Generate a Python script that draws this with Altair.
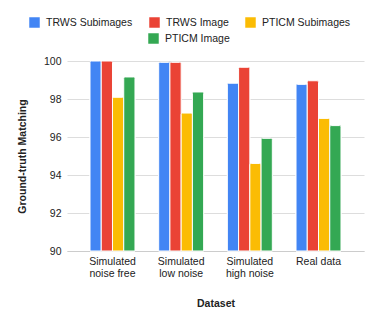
import altair as alt
import pandas as pd

categories = ["Simulated noise free", "Simulated low noise", "Simulated high noise", "Real data"]
series = ["TRWS Subimages", "TRWS Image", "PTICM Subimages", "PTICM Image"]
colors = ["#4285F4", "#EA4335", "#FBBC04", "#34A853"]
trws_sub = [100.0, 99.93, 98.83, 98.77]
trws_img = [100.0, 99.93, 99.67, 98.96]
pticm_sub = [98.09, 97.26, 94.61, 96.98]
pticm_img = [99.16, 98.37, 95.93, 96.60]

rows = []
for s, vals in zip(series, [trws_sub, trws_img, pticm_sub, pticm_img]):
    for c, v in zip(categories, vals):
        rows.append({"Dataset": c, "Series": s, "Value": v})
df = pd.DataFrame(rows)

font = "Arial"


def legend(vals, lx, ly):
    return alt.Legend(title=None, orient="none", legendX=lx, legendY=ly, values=vals,
                      direction="horizontal", columns=3, symbolType="square",
                      symbolSize=110, symbolStrokeWidth=0, columnPadding=16,
                      labelOffset=6, rowPadding=5, labelFontSize=10.5,
                      labelColor="#222222", labelFont=font, symbolOpacity=1)


def layer(vals, lx, ly):
    return alt.Chart(df).mark_bar(
        stroke="white", strokeWidth=1, cornerRadiusTopLeft=1.5, cornerRadiusTopRight=1.5
    ).encode(
        x=alt.X("Dataset:N", sort=categories,
                scale=alt.Scale(paddingInner=0.345, paddingOuter=0.335),
                axis=alt.Axis(title="Dataset", labelAngle=0, ticks=False, domain=True,
                              domainColor="#cccccc",
                              labelExpr="indexof(datum.label, 'Simulated ') == 0 ? ['Simulated', substring(datum.label, 10)] : datum.label",
                              labelPadding=5, labelLineHeight=12, titlePadding=20)),
        xOffset=alt.XOffset("Series:N", sort=series),
        y=alt.Y("Value:Q", scale=alt.Scale(domain=[90, 100], nice=False, zero=False),
                axis=alt.Axis(title="Ground-truth Matching", values=[90, 92, 94, 96, 98, 100],
                              ticks=False, domain=False, labelPadding=6, titlePadding=16,
                              gridColor="#dddddd")),
        y2=alt.datum(90),
        color=alt.Color("Series:N", sort=series,
                        scale=alt.Scale(domain=series, range=colors),
                        legend=legend(vals, lx, ly)),
    )


chart = alt.layer(
    layer(series[:3], -38, -44),
    layer(series[3:], 81, -28),
).resolve_legend(color="independent").properties(
    width=297, height=190,
    padding={"left": 9, "top": 9, "right": 5, "bottom": 5},
).configure_view(stroke=None).configure_axis(
    labelFont=font, titleFont=font, labelFontSize=10.5, titleFontSize=10.5,
    labelColor="#222222", titleColor="#222222", titleFontWeight="bold", grid=True
).configure_axisX(grid=False)

chart.save("out.html", embed_options={"renderer": "svg", "actions": False})
